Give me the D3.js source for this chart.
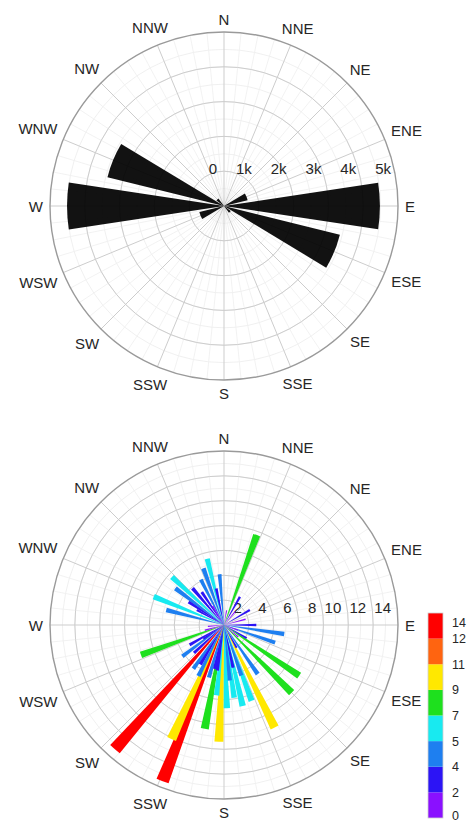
<!DOCTYPE html>
<html><head><meta charset="utf-8">
<script src="https://cdn.jsdelivr.net/npm/d3@7"></script>
<style>
html,body{margin:0;padding:0;background:#fff;}
svg text{font-family:"Liberation Sans",Arial,sans-serif;fill:#262626;}
</style></head>
<body>
<svg id="c" width="468" height="822"></svg>
<script>
// ---------- DATA ----------
const directions = ["N","NNE","NE","ENE","E","ESE","SE","SSE","S","SSW","SW","WSW","W","WNW","NW","NNW"];
const counts = [0,0,0,700,4480,3430,240,0,0,0,0,730,4510,3450,270,0];
const countTicks = [0,1000,2000,3000,4000,5000];
const countTickLabels = ["0","1k","2k","3k","4k","5k"];

// wind direction (deg, clockwise from N) and speed of each spoke in the lower rose
const speedDir = [20,345.8,340,355,333,319.5,312.7,307,292,284.5,299,329,348,326,303,29.5,60,40,75,90,10,
  98.5,109,124,135,145.5,153.7,160,167,172,161,120,151,168,178,182.5,186,190.5,192,174,196,
  201.5,204.7,206.6,211,221.3,233,236,240,250.2,255,265,130,110,188.5,215,227];
const speedVal = [7.7,5.5,4.85,4.1,4.1,3.9,5.7,4.9,6.1,4.8,2.5,1.8,3.0,3.2,3.4,2.6,2.4,1.4,1.8,2.6,1.2,
  4.9,4.35,7.3,7.7,4.8,9.2,6.5,6.7,5.9,4.3,2.1,2.1,3.5,6.7,9.4,5.7,8.5,3.6,4.5,4.4,
  13.5,10.1,4.6,3.7,13.3,4.2,2.0,3.2,7.1,1.6,1.3,1.5,1.2,3.7,4.3,3.3];
const speedTicks = [2,4,6,8,10,12,14];
const colorBreaks = [0,2,4,5,7,9,11,12,14];
const colorList = ["#8a10ff","#2c14f5","#1e7ff0","#18eaf0","#1ee01e","#ffe800","#ff6410","#ff0000"];

// ---------- LAYOUT ----------
const svg = d3.select("#c");
const R = 174;

function rose(cx, cy, maxV, majorStep, minorStep, drawFn, tickVals, tickLabs, tickDy){
  const g = svg.append("g").attr("transform",`translate(${cx},${cy})`);
  const r = d3.scaleLinear().domain([0,maxV]).range([0,R]);
  const gridG = g.append("g");
  gridG.selectAll("circle.mn").data(d3.range(minorStep, maxV, minorStep)).join("circle")
    .attr("r", d=>r(d)).attr("fill","none").attr("stroke","#ececec").attr("stroke-width",0.8);
  gridG.selectAll("line.mn").data(d3.range(0,360,5.625).filter(a=>Math.abs(a/22.5-Math.round(a/22.5))>0.01)).join("line")
    .attr("x1",0).attr("y1",0)
    .attr("x2",a=>R*Math.sin(a*Math.PI/180)).attr("y2",a=>-R*Math.cos(a*Math.PI/180))
    .attr("stroke","#efefef").attr("stroke-width",0.8);
  gridG.selectAll("circle.mj").data(d3.range(majorStep, maxV, majorStep)).join("circle")
    .attr("r", d=>r(d)).attr("fill","none").attr("stroke","#cdcdcd").attr("stroke-width",1);
  gridG.selectAll("line.mj").data(d3.range(0,360,22.5)).join("line")
    .attr("x1",0).attr("y1",0)
    .attr("x2",a=>R*Math.sin(a*Math.PI/180)).attr("y2",a=>-R*Math.cos(a*Math.PI/180))
    .attr("stroke","#cdcdcd").attr("stroke-width",1);
  g.append("circle").attr("r",R).attr("fill","none").attr("stroke","#9a9a9a").attr("stroke-width",1.4);
  g.selectAll("text.tk").data(tickVals.map((v,i)=>({v,l:tickLabs[i]}))).join("text")
    .attr("x",d=>r(d.v)-7).attr("y",tickDy).attr("text-anchor","end")
    .attr("font-size",15).text(d=>d.l);
  directions.forEach((lab,i)=>{
    const a = i*22.5*Math.PI/180;
    const t = g.append("text").attr("font-size",15).attr("text-anchor","middle").text(lab);
    const w = t.node().getComputedTextLength();
    const rr = 181 + Math.abs(Math.sin(a))*w/2 + Math.abs(Math.cos(a))*6;
    t.attr("x", rr*Math.sin(a)).attr("y", -rr*Math.cos(a)+5.5);
  });
  drawFn(g, r);
}

// upper rose: counts
rose(224, 206, 5000, 1000, 500, (g, r)=>{
  const half = 8.6*Math.PI/180;
  const arc = d3.arc().innerRadius(0);
  g.insert("g", "text").selectAll("path").data(counts.map((c,i)=>({c,a:i*22.5*Math.PI/180}))).join("path")
    .attr("d", d=>arc({outerRadius:r(d.c), startAngle:d.a-half, endAngle:d.a+half}))
    .attr("fill","#000").attr("fill-opacity",0.93);
}, countTicks, countTickLabels, -32.5);

// lower rose: speed
const color = d3.scaleThreshold().domain(colorBreaks.slice(1,-1)).range(colorList);
rose(224, 625, 14, 2, 1, (g, r)=>{
  const half = 2.2*Math.PI/180;
  const arc = d3.arc().innerRadius(0);
  const data = speedDir.map((d,i)=>({a:d*Math.PI/180, v:speedVal[i]})).sort((p,q)=>q.v-p.v);
  g.append("g").selectAll("path").data(data).join("path")
    .attr("d", d=>arc({outerRadius:r(d.v), startAngle:d.a-half, endAngle:d.a+half}))
    .attr("fill", d=>color(d.v));
}, speedTicks, speedTicks.map(String), -12.5);

// colorbar
const cb = svg.append("g");
const yC = d3.scaleLinear().domain([0, colorList.length]).range([818, 613]);
cb.selectAll("rect").data(colorList).join("rect")
  .attr("x",428).attr("width",15)
  .attr("y",(c,i)=>yC(i+1)).attr("height",(c,i)=>yC(i)-yC(i+1))
  .attr("fill",c=>c);
cb.append("rect").attr("x",428).attr("y",613).attr("width",15).attr("height",205)
  .attr("fill","none").attr("stroke","#d0d0d0").attr("stroke-width",0.8);
cb.selectAll("text").data(colorBreaks).join("text")
  .attr("x",452).attr("y",(v,i)=> i===colorBreaks.length-1 ? yC(i)+14 : Math.min(yC(i)+4.5, 819.5))
  .attr("font-size",12.5).text(v=>v);
</script>
</body></html>
